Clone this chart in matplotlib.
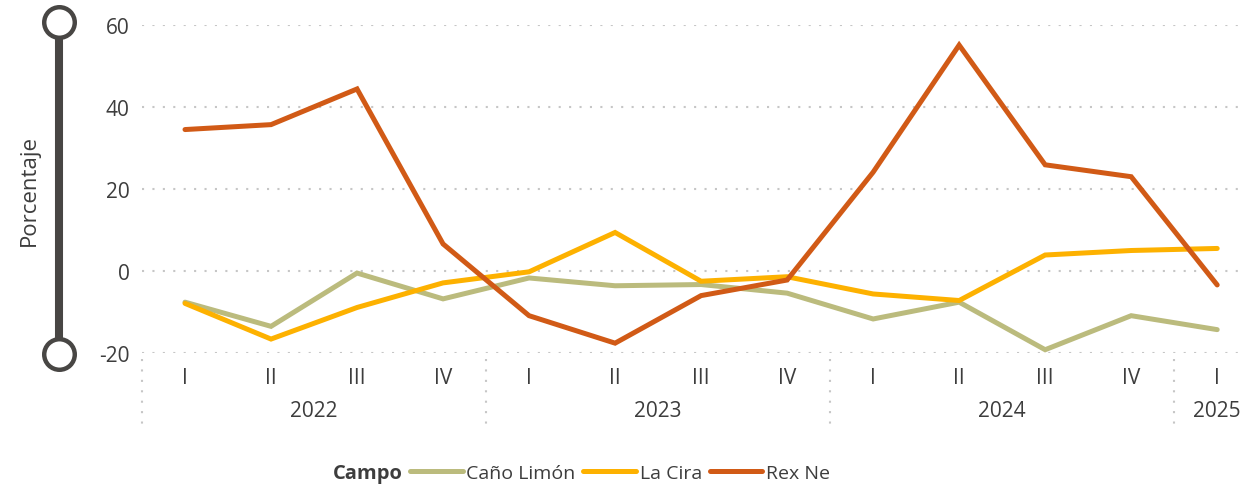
import matplotlib.pyplot as plt
import matplotlib.transforms as mtransforms
from matplotlib.lines import Line2D

plt.rcParams["font.family"] = ["Open Sans", "DejaVu Sans"]
plt.rcParams["axes.unicode_minus"] = False

quarters = ["I", "II", "III", "IV", "I", "II", "III", "IV", "I", "II", "III", "IV", "I"]
years = ["2022", "2022", "2022", "2022", "2023", "2023", "2023", "2023",
         "2024", "2024", "2024", "2024", "2025"]

cano_limon = [-7.6, -13.5, -0.5, -6.8, -1.7, -3.6, -3.3, -5.4, -11.7, -7.6, -19.2, -10.9, -14.3]
la_cira = [-7.9, -16.6, -8.9, -2.9, -0.2, 9.4, -2.5, -1.4, -5.6, -7.2, 3.9, 5.0, 5.5]
rex_ne = [34.5, 35.7, 44.4, 6.6, -10.9, -17.6, -6.0, -2.2, 24.1, 55.1, 25.9, 23.0, -3.4]

series = [
    ("Caño Limón", cano_limon, "#BBBB7D"),
    ("La Cira", la_cira, "#FDB100"),
    ("Rex Ne", rex_ne, "#D15A16"),
]

text_color = "#3d3d3d"
grid_color = "#c6c6c6"
fs = 15

fig = plt.figure(figsize=(12.43, 4.89), dpi=100)
W, H = 1243, 489
ax = fig.add_axes([142 / W, 1 - 354 / H, 1 - 142 / W, 328 / H])

x = list(range(len(quarters)))
for name, vals, color in series:
    ax.plot(x, vals, color=color, lw=3.6, solid_capstyle="round",
            solid_joinstyle="miter", label=name, zorder=3)

ax.set_xlim(-0.5, 12.3)
ax.set_ylim(-20, 60)
ax.set_yticks([-20, 0, 20, 40, 60])
ax.set_xticks(x)
ax.set_xticklabels(quarters)
ax.tick_params(axis="both", length=0, labelsize=fs, colors=text_color)
ax.tick_params(axis="y", pad=9)
ax.tick_params(axis="x", pad=10)
for s in ax.spines.values():
    s.set_visible(False)
ax.yaxis.grid(True, color=grid_color, lw=1.5, linestyle=(0, (1, 4)))
ax.set_axisbelow(True)

# year groups
trans = mtransforms.blended_transform_factory(ax.transData, ax.transAxes)
groups = []
for i, y in enumerate(years):
    if groups and groups[-1][0] == y:
        groups[-1][2] = i
    else:
        groups.append([y, i, i])
for y, a, b in groups:
    ax.text((a + b) / 2, -0.176, y, transform=trans, ha="center", va="center",
            fontsize=fs, color=text_color)
    ax.add_line(Line2D([a - 0.5, a - 0.5], [-0.018, -0.238], transform=trans,
                       color=grid_color, lw=1.5, linestyle=(0, (1, 4)), clip_on=False))

# y-axis slider decoration
fig.add_artist(Line2D([58.7 / W, 58.7 / W], [1 - 23 / H, 1 - 355 / H],
                      transform=fig.transFigure, color="#484644", lw=5.8))
fig.add_artist(Line2D([58.7 / W, 58.7 / W], [1 - 23 / H, 1 - 355 / H],
                      transform=fig.transFigure, ls="none", marker="o",
                      markersize=22, markerfacecolor="white",
                      markeredgecolor="#484644", markeredgewidth=3.2))
fig.text(29 / W, 1 - 190 / H, "Porcentaje", rotation=90, ha="center", va="center",
         fontsize=16, color=text_color)

# legend
fig.text(333 / W, 1 - 474 / H, "Campo", fontsize=14.5, fontweight="bold",
         color=text_color, ha="left", va="center")
fig.legend(loc="center left", bbox_to_anchor=(410 / W, 1 - 474 / H), ncol=3,
           frameon=False, fontsize=14, handlelength=2.7, handletextpad=0.2,
           columnspacing=0.4, borderpad=0, borderaxespad=0, labelcolor=text_color)

fig.savefig("out.png", dpi=100)
